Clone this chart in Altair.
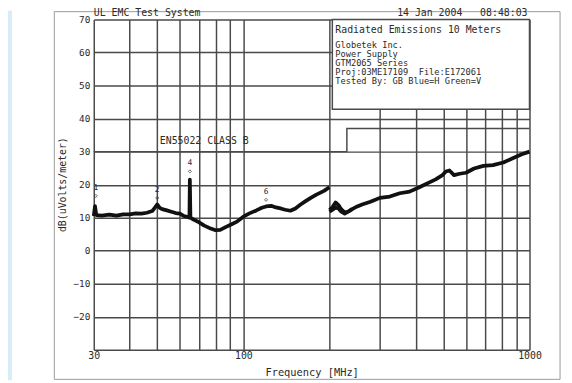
import altair as alt
import pandas as pd

# ---------------- data ----------------
# Band 1 (30-200 MHz)
band1_freq = [30, 30.3, 30.6, 32, 34, 36, 38, 40, 42, 44, 46, 48, 49, 50, 51, 52, 54, 56, 58,
              60, 62, 64, 64.8, 65.0, 65.3, 67, 70, 73, 76, 80, 83, 87, 91, 95, 100, 105, 111,
              116, 120, 125, 130, 135, 140, 146, 152, 158, 165, 172, 180, 186, 192, 198, 200]
band1_db = [10.5, 13.5, 10.8, 10.6, 10.9, 10.6, 11.0, 11.0, 11.3, 11.2, 11.5, 12.0, 13.0, 14.0,
            13.0, 12.6, 12.2, 11.8, 11.4, 11.2, 10.5, 10.2, 10.0, 21.5, 10.0, 9.4, 8.6, 7.6, 6.9,
            6.2, 6.3, 7.2, 8.0, 8.8, 10.3, 11.3, 12.2, 13.0, 13.4, 13.6, 13.1, 12.8, 12.4, 12.1,
            12.8, 13.9, 15.0, 16.0, 17.0, 17.6, 18.2, 19.0, 19.2]
# Band 2 (200-1000 MHz), horizontal polarisation
band2h_freq = [200, 205, 210, 215, 220, 226, 232, 240, 250, 260, 278, 300, 325, 352, 381, 412,
               445, 470, 495, 510, 525, 545, 570, 600, 640, 690, 745, 810, 870, 940, 1000]
band2h_db = [12.3, 13.2, 14.6, 13.8, 12.5, 11.6, 11.8, 12.6, 13.4, 14.0, 14.8, 16.0, 16.4, 17.4,
             17.9, 19.2, 20.6, 21.6, 22.8, 24.0, 24.3, 22.9, 23.3, 23.6, 24.9, 25.7, 25.9, 26.7,
             27.9, 29.2, 30.0]
# Band 2, vertical polarisation (only visibly separate near 200-240 MHz)
band2v_freq = [200, 205, 210, 215, 220, 226, 232, 240]
band2v_db = [11.8, 12.4, 13.0, 12.8, 11.8, 11.2, 11.8, 12.6]

# EN55022 class B limit line
limit_freq = [30, 230, 230, 1000]
limit_db = [30, 30, 37, 37]

# marker labels
marker_labels = ["1", "2", "4", "6"]
marker_freq = [30.5, 50, 65, 120]
marker_db = [19.0, 18.4, 26.4, 17.8]

# axis grid / labels
x_grid = [30, 40, 50, 60, 70, 80, 90, 100, 200, 300, 400, 500, 600, 700, 800, 900, 1000]
x_labeled = [30, 100, 1000]
y_grid = [-30, -20, -10, 0, 10, 20, 30, 40, 50, 60, 70]

header_left = "UL EMC Test System"
header_right = "14 Jan 2004\u00a0\u00a0\u00a008:48:03"
box_title = "Radiated Emissions 10 Meters"
box_lines = ["Globetek Inc.", "Power Supply", "GTM2065 Series",
             "Proj:03ME17109\u00a0\u00a0File:E172061", "Tested By: GB Blue=H Green=V"]
limit_label = "EN55022 CLASS B"

# ---------------- tables ----------------
rows = []
for f, d in zip(band1_freq, band1_db):
    rows.append({"freq": f, "db": d, "series": "b1"})
for f, d in zip(band2h_freq, band2h_db):
    rows.append({"freq": f, "db": d, "series": "b2h"})
for f, d in zip(band2v_freq, band2v_db):
    rows.append({"freq": f, "db": d, "series": "b2v"})
trace = pd.DataFrame(rows)
trace["idx"] = range(len(trace))

limit = pd.DataFrame({"freq": limit_freq, "db": limit_db, "idx": range(len(limit_freq))})
markers = pd.DataFrame({"freq": marker_freq, "db": marker_db, "label": marker_labels})
one = pd.DataFrame({"a": [0]})

FONT = "DejaVu Sans Mono"
INK = "#2b2b2b"
GRID = "#4a4a4a"

x_label_expr = " || ".join(f"datum.value == {v}" for v in x_labeled)
x_scale = alt.Scale(type="log", domain=[30, 1000], nice=False)
y_scale = alt.Scale(domain=[-30, 70], nice=False, zero=False)

x_axis = alt.Axis(values=x_grid, tickCount=50, format="d",
                  labelExpr=f"({x_label_expr}) ? datum.label : ''",
                  grid=True, gridColor=GRID, gridWidth=1.5, gridOpacity=1,
                  ticks=False, domain=False, labelFont=FONT, labelFontSize=10,
                  labelColor=INK, labelPadding=1, labelFlush=False, labelOverlap=False,
                  title="Frequency [MHz]", titleFont=FONT, titleFontSize=10.5,
                  titleFontWeight="normal", titleColor=INK, titleBaseline="middle",
                  titleY=23)
y_axis = alt.Axis(values=y_grid, tickCount=50,
                  labelExpr="datum.value == -30 ? '' : datum.label",
                  grid=True, gridColor=GRID, gridWidth=1.5, gridOpacity=1,
                  ticks=False, domain=False, labelFont=FONT, labelFontSize=9.5,
                  labelColor=INK, labelPadding=4, labelOverlap=False, labelFlush=False,
                  title="dB(uVolts/meter)", titleFont=FONT, titleFontSize=10,
                  titleFontWeight="normal", titleColor=INK, titleAngle=270,
                  titleAlign="center", titleBaseline="middle", titleX=-32, titleY=167)

# outer frame and page strip
frame = alt.Chart(one).mark_rect(fill=None, stroke="#9a9a9a", strokeWidth=1).encode(
    x=alt.value(-40), x2=alt.value(473), y=alt.value(-8), y2=alt.value(365))
strip = alt.Chart(one).mark_rect(fill="#d6edf9", stroke=None).encode(
    x=alt.value(-87), x2=alt.value(-83), y=alt.value(-9), y2=alt.value(366))

limit_line = alt.Chart(limit).mark_line(color=GRID, strokeWidth=1.5).encode(
    x=alt.X("freq:Q", scale=x_scale, axis=x_axis),
    y=alt.Y("db:Q", scale=y_scale, axis=y_axis),
    order="idx:Q")

trace_line = alt.Chart(trace).mark_line(color="#111111", strokeWidth=3.8,
                                         strokeJoin="round").encode(
    x=alt.X("freq:Q", scale=x_scale),
    y=alt.Y("db:Q", scale=y_scale),
    detail="series:N",
    order="idx:Q")

marker_text = alt.Chart(markers).mark_text(font=FONT, fontSize=8, color=INK,
                                           baseline="middle").encode(
    x=alt.X("freq:Q", scale=x_scale),
    y=alt.Y("db:Q", scale=y_scale),
    text="label:N")
marker_pts = alt.Chart(markers).mark_point(shape="diamond", size=10, filled=False,
                                           color=INK, strokeWidth=1, yOffset=8).encode(
    x=alt.X("freq:Q", scale=x_scale),
    y=alt.Y("db:Q", scale=y_scale))

box = alt.Chart(one).mark_rect(fill="white", stroke=GRID, strokeWidth=1.5).encode(
    x=alt.value(242), x2=alt.value(442), y=alt.value(0), y2=alt.value(91))
box_title_t = alt.Chart(one).mark_text(font=FONT, fontSize=10, color=INK, align="left",
                                       baseline="middle").encode(
    x=alt.value(245), y=alt.value(11), text=alt.value(box_title))
box_lines_t = alt.Chart(one).mark_text(font=FONT, fontSize=8.8, color=INK, align="left",
                                       baseline="middle", lineBreak="\n",
                                       lineHeight=9).encode(
    x=alt.value(245), y=alt.value(26), text=alt.value("\n".join(box_lines)))
head_l = alt.Chart(one).mark_text(font=FONT, fontSize=10, color=INK, align="left",
                                  baseline="middle").encode(
    x=alt.value(0), y=alt.value(-7), text=alt.value(header_left))
head_r = alt.Chart(one).mark_text(font=FONT, fontSize=10, color=INK, align="right",
                                  baseline="middle").encode(
    x=alt.value(440), y=alt.value(-7), text=alt.value(header_right))
limit_t = alt.Chart(one).mark_text(font=FONT, fontSize=10, color=INK, align="left",
                                   baseline="middle").encode(
    x=alt.value(67), y=alt.value(123), text=alt.value(limit_label))

chart = alt.layer(
    strip, frame, limit_line, trace_line, marker_text, marker_pts,
    box, box_title_t, box_lines_t, head_l, head_r, limit_t
).properties(
    width=442, height=335,
    autosize=alt.AutoSizeParams(type="none"),
    padding={"left": 87, "top": 9, "right": 35, "bottom": 31},
    background="white",
).configure_view(stroke=None)

chart.save("out.html", embed_options={"renderer": "svg", "actions": False})
